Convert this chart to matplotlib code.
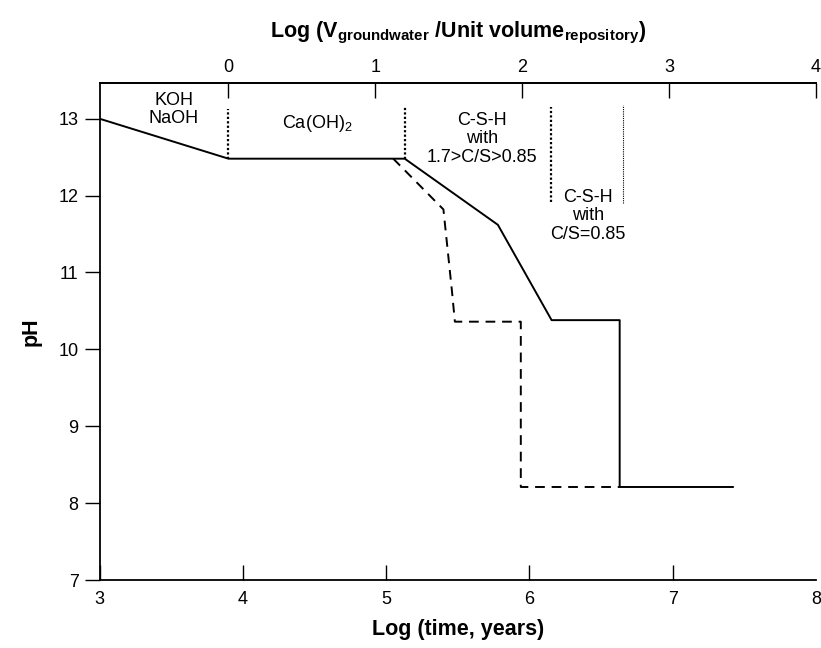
import matplotlib
matplotlib.use("Agg")
import matplotlib.pyplot as plt

plt.rcParams['font.family'] = ['Liberation Sans', 'DejaVu Sans']
plt.rcParams['mathtext.fontset'] = 'custom'
plt.rcParams['mathtext.rm'] = 'Liberation Sans'
plt.rcParams['mathtext.bf'] = 'Liberation Sans:bold'

# Data
solid_x = [3.0, 3.9, 5.13, 5.78, 6.155, 6.63, 6.63, 7.42]
solid_y = [13.0, 12.48, 12.48, 11.62, 10.38, 10.38, 8.21, 8.21]
dashed_x = [5.05, 5.40, 5.46, 5.48, 5.94, 5.94, 6.63]
dashed_y = [12.48, 11.82, 10.75, 10.36, 10.36, 8.21, 8.21]
bound_x = [3.9, 5.13, 6.15, 6.655]
bound_ymin = [12.48, 12.48, 11.92, 11.90]
bound_ymax = [13.13, 13.15, 13.15, 13.18]
bound_lw = [1.6, 1.6, 1.6, 0.8]
labels = ["KOH\nNaOH", "Ca(OH)$_2$", "C-S-H\nwith\n1.7>C/S>0.85", "C-S-H\nwith\nC/S=0.85"]
label_x = [3.52, 4.52, 5.67, 6.41]
label_y = [13.12, 12.94, 12.74, 11.74]
bottom_ticks = [3, 4, 5, 6, 7, 8]
top_ticks = [0, 1, 2, 3, 4]
y_ticks = [7, 8, 9, 10, 11, 12, 13]

fig = plt.figure(figsize=(8.21, 6.48), dpi=100)
ax = fig.add_axes([0.1212, 0.1049, 0.8727, 0.7665])

ax.plot(solid_x, solid_y, color='black', lw=1.4)
ax.plot(dashed_x, dashed_y, color='black', lw=1.4, linestyle=(0, (5, 3.5)))
for bx, y0, y1, lw in zip(bound_x, bound_ymin, bound_ymax, bound_lw):
    ax.plot([bx, bx], [y0, y1], color='black', lw=lw, linestyle=(0, (1, 1)))
for t, tx, ty in zip(labels, label_x, label_y):
    ax.text(tx, ty, t, ha='center', va='center', fontsize=13, linespacing=1.12)

ax.set_xlim(3, 8)
ax.set_ylim(7, 13.46)
ax.set_xticks(bottom_ticks)
ax.set_yticks(y_ticks)
ax.tick_params(axis='x', direction='in', length=11, width=1, labelsize=13, pad=8, top=False)
ax.tick_params(axis='y', direction='out', length=11, width=1, labelsize=13, pad=4, right=False)
ax.xaxis.get_major_ticks()[-1].tick1line.set_visible(False)
ax.spines['right'].set_visible(False)
for s in ['left', 'bottom', 'top']:
    ax.spines[s].set_linewidth(1.3)

ax.set_xlabel('Log (time, years)', fontsize=15.5, fontweight='bold', labelpad=8)
ax.set_ylabel('pH', fontsize=15.5, fontweight='bold', labelpad=12)

f = lambda b: (b - 3.9) / 1.025
finv = lambda t: t * 1.025 + 3.9
sec = ax.secondary_xaxis('top', functions=(f, finv))
sec.set_xticks(top_ticks)
sec.tick_params(direction='in', length=11, width=1, labelsize=13, pad=5)
sec.spines['top'].set_linewidth(1.3)
sec.set_xlabel(r'Log (V$_{\mathbf{groundwater}}$ /Unit volume$_{\mathbf{repository}}$)',
               fontsize=15.5, fontweight='bold', labelpad=16)

fig.savefig('out.png', dpi=100)
